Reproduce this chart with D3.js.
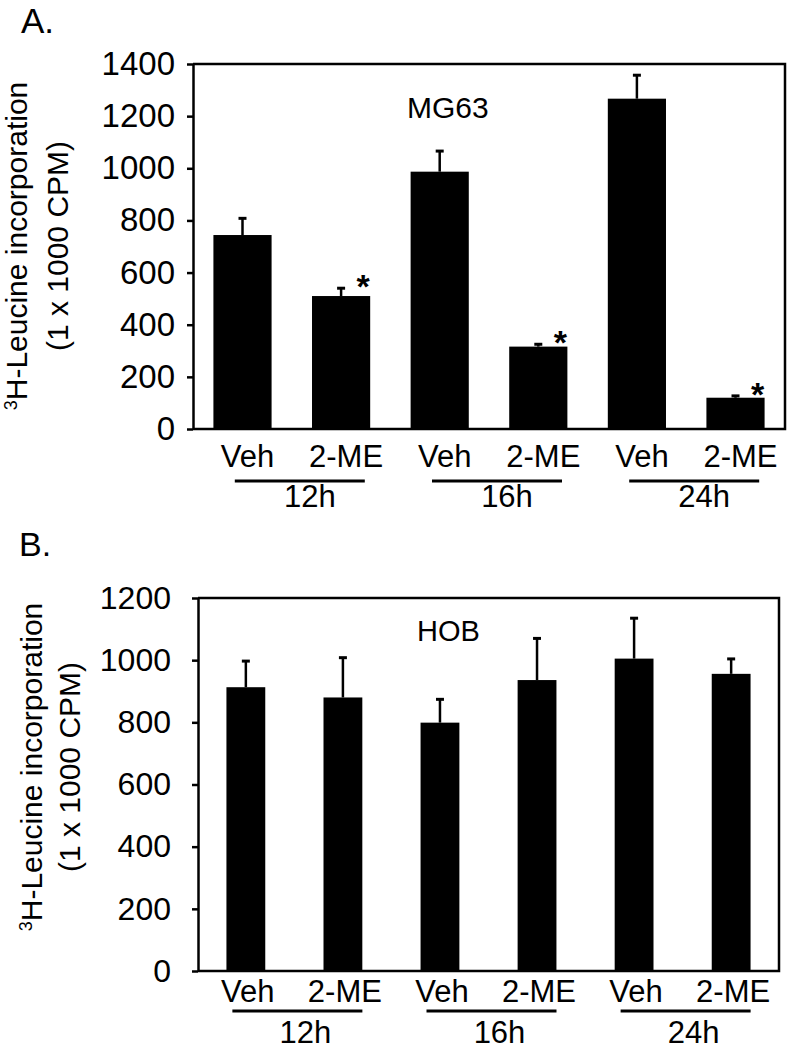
<!DOCTYPE html>
<html><head><meta charset="utf-8">
<script src="https://cdn.jsdelivr.net/npm/d3@7"></script>
<style>
body{margin:0;background:#fff}
svg{display:block}
text{font-family:"Liberation Sans",Arial,Helvetica,sans-serif;fill:#000}
</style>
</head><body>
<svg id="chart" width="791" height="1049"></svg>
<script>
// ---------- data ----------
const groups = ["12h", "16h", "24h"];
const treatments = ["Veh", "2-ME"];
const categories = groups.flatMap(g => treatments.map(t => g + "|" + t));
const mg63Values = [744, 510, 987, 316, 1267, 120];
const mg63Errors = [64, 30, 79, 9, 90, 7];
const mg63Signif = [false, true, false, true, false, true];
const hobValues = [913, 880, 799, 936, 1005, 956];
const hobErrors = [84, 128, 75, 134, 130, 48];
const hobSignif = [false, false, false, false, false, false];
const mg63Ticks = [0, 200, 400, 600, 800, 1000, 1200, 1400];
const hobTicks = [0, 200, 400, 600, 800, 1000, 1200];
const yTitleLine1 = "H-Leucine incorporation";
const yTitleSup = "3";
const yTitleLine2 = "(1 x 1000 CPM)";

// ---------- layout ----------
const svg = d3.select("#chart");
svg.append("rect").attr("width", 791).attr("height", 1049).attr("fill", "#fff");

function drawPanel(cfg, values, errors, signif, ticks) {
  const g = svg.append("g");
  const x = d3.scaleBand().domain(categories).range([cfg.left, cfg.right])
    .paddingInner(cfg.padIn).paddingOuter(cfg.padOut);
  const y = d3.scaleLinear().domain([0, ticks[ticks.length - 1]]).range([cfg.bottom, cfg.top]);

  // bars
  g.selectAll("rect.bar").data(categories).join("rect")
    .attr("class", "bar")
    .attr("x", d => x(d)).attr("width", x.bandwidth())
    .attr("y", (d, i) => y(values[i]))
    .attr("height", (d, i) => y(0) - y(values[i]))
    .attr("fill", "#000");

  // error bars
  const eb = g.selectAll("g.err").data(categories).join("g").attr("class", "err");
  eb.append("line")
    .attr("x1", d => x(d) + x.bandwidth() / 2).attr("x2", d => x(d) + x.bandwidth() / 2)
    .attr("y1", (d, i) => y(values[i])).attr("y2", (d, i) => y(values[i] + errors[i]))
    .attr("stroke", "#000").attr("stroke-width", 2.5);
  eb.append("line")
    .attr("x1", d => x(d) + x.bandwidth() / 2 - 4).attr("x2", d => x(d) + x.bandwidth() / 2 + 4)
    .attr("y1", (d, i) => y(values[i] + errors[i])).attr("y2", (d, i) => y(values[i] + errors[i]))
    .attr("stroke", "#000").attr("stroke-width", 3);

  // significance stars
  g.selectAll("text.star").data(categories.filter((d, i) => signif[i])).join("text")
    .attr("class", "star")
    .attr("x", d => x(d) + x.bandwidth() / 2 + 22)
    .attr("y", d => { const i = categories.indexOf(d); return y(values[i] + errors[i]) + 10; })
    .attr("text-anchor", "middle").attr("font-size", 34).attr("font-weight", "bold")
    .text("*");

  // frame (top / right / bottom)
  g.append("path")
    .attr("d", `M${cfg.left},${cfg.top}H${cfg.right}V${cfg.bottom}H${cfg.left}`)
    .attr("fill", "none").attr("stroke", "#000").attr("stroke-width", 2.5);

  // y axis
  const ax = g.append("g").attr("transform", `translate(${cfg.left},0)`)
    .call(d3.axisLeft(y).tickValues(ticks).tickFormat(d3.format("d"))
      .tickSize(6).tickPadding(cfg.tickPad).tickSizeOuter(0));
  ax.select(".domain").attr("stroke", "#000").attr("stroke-width", 2.5);
  ax.selectAll(".tick line").attr("stroke", "#000").attr("stroke-width", 2.5);
  ax.selectAll(".tick text").attr("font-size", cfg.tickFont)
    .attr("font-family", '"Liberation Sans",Arial,sans-serif').attr("fill", "#000");

  // category labels
  g.selectAll("text.treat").data(categories).join("text")
    .attr("class", "treat")
    .attr("x", d => x(d) + x.bandwidth() / 2 + cfg.treatOff)
    .attr("y", cfg.treatY).attr("text-anchor", "middle").attr("font-size", cfg.labelFont)
    .text(d => d.split("|")[1]);

  // group underline + group label
  groups.forEach(gr => {
    const a = x(gr + "|" + treatments[0]) + x.bandwidth() / 2;
    const b = x(gr + "|" + treatments[1]) + x.bandwidth() / 2;
    const mid = (a + b) / 2;
    g.append("line")
      .attr("x1", mid + cfg.lineOff - 65).attr("x2", mid + cfg.lineOff + 65)
      .attr("y1", cfg.lineY).attr("y2", cfg.lineY)
      .attr("stroke", "#000").attr("stroke-width", 3);
    g.append("text").attr("x", mid + cfg.groupOff).attr("y", cfg.groupY)
      .attr("text-anchor", "middle").attr("font-size", cfg.labelFont).text(gr);
  });

  // cell line label
  g.append("text").attr("x", cfg.cellX).attr("y", cfg.cellY).attr("font-size", cfg.cellFont).text(cfg.cell);

  // panel letter
  g.append("text").attr("x", cfg.letterX).attr("y", cfg.letterY).attr("font-size", cfg.letterFont).text(cfg.letter);

  // y title
  const t1 = g.append("text").attr("transform", `translate(${cfg.title1X},${cfg.titleY}) rotate(-90)`)
    .attr("text-anchor", "middle").attr("font-size", cfg.titleFont);
  t1.append("tspan").attr("font-size", cfg.titleFont * 0.6).attr("dy", -cfg.titleFont * 0.32).text(yTitleSup);
  t1.append("tspan").attr("dy", cfg.titleFont * 0.32).text(yTitleLine1);
  g.append("text").attr("transform", `translate(${cfg.title2X},${cfg.titleY}) rotate(-90)`)
    .attr("text-anchor", "middle").attr("font-size", cfg.titleFont).text(yTitleLine2);
}

drawPanel({
  left: 193, right: 785, top: 64, bottom: 429, padIn: 0.41, padOut: 0.207,
  tickPad: 12, tickFont: 33, labelFont: 31,
  treatY: 467, treatOff: 5, lineY: 481, lineOff: 8, groupY: 507, groupOff: 18,
  cell: "MG63", cellX: 407, cellY: 118, cellFont: 30,
  letter: "A.", letterX: 21, letterY: 33, letterFont: 35,
  title1X: 27, title2X: 68, titleY: 246, titleFont: 30
}, mg63Values, mg63Errors, mg63Signif, mg63Ticks);

drawPanel({
  left: 198, right: 779, top: 598, bottom: 971, padIn: 0.6, padOut: 0.293,
  tickPad: 21, tickFont: 32, labelFont: 31,
  treatY: 1002, treatOff: 2, lineY: 1011, lineOff: 3, groupY: 1043, groupOff: 11,
  cell: "HOB", cellX: 417, cellY: 641, cellFont: 29,
  letter: "B.", letterX: 19, letterY: 556, letterFont: 34,
  title1X: 42, title2X: 80, titleY: 767, titleFont: 30
}, hobValues, hobErrors, hobSignif, hobTicks);
</script>
</body></html>
